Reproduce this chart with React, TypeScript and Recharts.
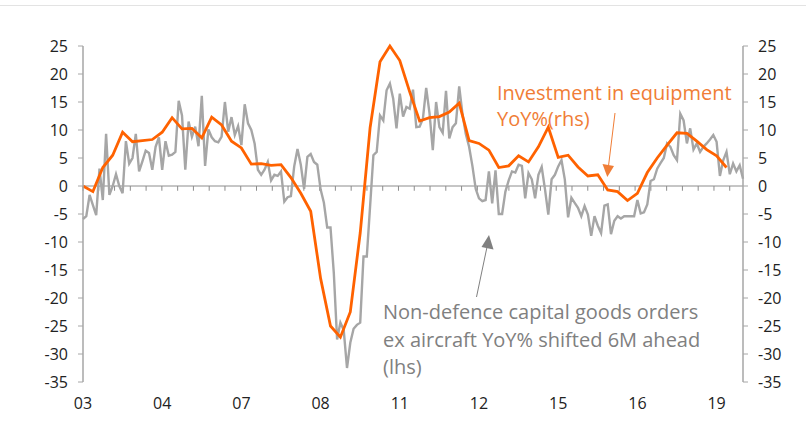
import React from "react";
import { LineChart, Line, XAxis, YAxis, ReferenceLine } from "recharts";

// monthly, Jan-03 .. (shifted 6M ahead)
const ordersYoY = [
  -5.9, -5.4, -1.6, -3.4, -5.2, 3.1, -2.5, 9.3, -1.6, 0, 2.1, 0, -1.3, 8, 4, 5, 9.3, 2.6, 4.4, 6.3,
  5.9, 2.9, 7, 8.7, 2.9, 8, 5.4, 5.6, 6.1, 15.2, 12.6, 2.9, 11.5, 8.8, 10.6, 7.1, 16.1, 3.6, 10.1, 8.7,
  8, 7.8, 8.8, 15, 9.7, 12.3, 9.1, 10.7, 7.3, 14.6, 11.2, 10, 7.6, 2.9, 2, 2.9, 4.3, 1, 2, 1.8,
  2.6, -2.8, -2, -1.8, 3.5, 6.6, 3.8, -0.5, 5.2, 5.7, 4.3, 3.8, -0.6, -3, -7.4, -7.4, -15.5, -27.4, -24.4, -25.7,
  -32.5, -28, -25.5, -24.8, -24.4, -12.6, -12.6, -3.6, 5.5, 6.1, 12.6, 11.7, 17.1, 18.3, 15.6, 10.3, 16.5, 12.4, 14.1, 13.8,
  17.2, 10.5, 10.6, 12, 17.5, 13, 6.4, 15, 10.5, 9.5, 17, 8.5, 10.5, 11.2, 17.8, 12.8, 9.3, 7, 3.6, -0.5,
  -2.2, -2.7, -2.5, 2.6, -3.1, 2.8, -5, -5, -1, 1, 2.6, 2.4, 3.8, 3.6, -2.2, 2.3, 1.2, -2.2, 2, 3.4,
  -0.6, -5.1, 1.2, 2, 3.5, 4.6, 1.2, -5.6, -2.1, -3, -3.9, -5.4, -3.6, -5.1, -8.9, -5.4, -7.1, -8.4, -3.5, -3.3,
  -8.6, -6.2, -5.4, -5.8, -5.4, -5.4, -5.4, -5.4, -2.5, -4.9, -4.7, -3.3, 0.9, 1.2, 3.1, 4.1, 5, 7.6, 7, 5.5,
  4.6, 12.9, 11.7, 7.6, 10.3, 6.5, 7.6, 6.1, 7, 7.6, 8.3, 9.1, 7.9, 1.8, 4.6, 6.1, 2.1, 4, 2.6, 3.7,
  1.3,
];

// quarterly, Q1-03 ..
const equipmentYoY = [
  0, -1, 3.3, 5.5, 9.6, 7.9, 8.1, 8.3, 9.6, 12.2, 10.2, 10.3, 8.6, 12.3, 10.9, 8, 6.8, 3.9, 4, 3.7,
  3.8, 1.5, -1.3, -4.5, -16.5, -25, -27, -22.5, -8.4, 10.4, 22.2, 25, 22.4, 16.8, 11.6, 12.2, 12.4, 13.2, 14.8, 8.1,
  7.6, 6.4, 3.3, 3.6, 5.4, 4.3, 7, 10.5, 5.1, 5.5, 3.4, 1.8, 2, -0.7, -1, -2.6, -1.3, 2.4, 5, 7.3,
  9.5, 9.4, 8, 6.5, 5.4, 3.3,
];

const xTicks = [0, 24, 48, 72, 96, 120, 144, 168, 192];
const xLabels = ["03", "04", "07", "08", "11", "12", "15", "16", "19"];
const yTicks = [-35, -30, -25, -20, -15, -10, -5, 0, 5, 10, 15, 20, 25];

const FONT = "'Open Sans', sans-serif";
const AXIS = "#a6a6a6";
const ORANGE = "#ff6200";

const rows = ordersYoY.map((v, i) => ({
  m: i,
  orders: v,
  equip: i % 3 === 0 && i / 3 < equipmentYoY.length ? equipmentYoY[i / 3] : null,
}));

// small marks on the zero line
const zeroTicks = Array.from({ length: 42 }, (_, k) => k * 4.78);

export default function App() {
  const tickStyle = { fill: "#222", fontSize: 16, fontFamily: FONT };
  return (
    <div style={{ position: "absolute", left: 0, top: 0, width: 806, height: 424, background: "#fff" }}>
      <div style={{ position: "absolute", left: 0, top: 5, width: 806, height: 1, background: "#e3e3e3" }} />
      <LineChart width={806} height={424} data={rows} margin={{ top: 46, right: 0, bottom: 0, left: 0 }}>
        <XAxis
          dataKey="m"
          type="number"
          domain={[0, 200]}
          ticks={xTicks}
          interval={0}
          tickFormatter={(v) => xLabels[xTicks.indexOf(v)]}
          axisLine={false}
          tickLine={false}
          tickMargin={10}
          height={42}
          tick={tickStyle}
        />
        <YAxis
          yAxisId="left"
          orientation="left"
          width={83}
          domain={[-35, 25]}
          ticks={yTicks}
          interval={0}
          axisLine={{ stroke: AXIS, strokeWidth: 1.5 }}
          tickLine={{ stroke: AXIS }}
          tickSize={5}
          tickMargin={10}
          tick={tickStyle}
        />
        <YAxis
          yAxisId="right"
          orientation="right"
          width={63}
          domain={[-35, 25]}
          ticks={yTicks}
          interval={0}
          axisLine={{ stroke: AXIS, strokeWidth: 1.5 }}
          tickLine={{ stroke: AXIS }}
          tickSize={5}
          tickMargin={10}
          tick={{ ...tickStyle, textAnchor: "start" }}
        />
        <ReferenceLine yAxisId="left" y={0} stroke="#8c8c8c" strokeWidth={1} />
        {zeroTicks.map((t) => (
          <ReferenceLine
            key={t}
            yAxisId="left"
            segment={[{ x: t, y: 0 }, { x: t, y: -0.85 }]}
            stroke="#8c8c8c"
            strokeWidth={1}
          />
        ))}
        <Line
          yAxisId="left"
          type="linear"
          dataKey="orders"
          stroke="#a6a6a6"
          strokeWidth={2.4}
          dot={false}
          isAnimationActive={false}
        />
        <Line
          yAxisId="right"
          type="linear"
          dataKey="equip"
          stroke={ORANGE}
          strokeWidth={2.8}
          dot={false}
          connectNulls
          isAnimationActive={false}
        />
      </LineChart>
      <svg width={806} height={424} style={{ position: "absolute", left: 0, top: 0, pointerEvents: "none" }}>
        <g fontFamily={FONT} fontSize={20}>
          <text x={497} y={100} fill="#f07d36">Investment in equipment</text>
          <text x={497} y={126} fill="#f07d36">YoY%(rhs)</text>
          <text x={383} y={319} fill="#808080">Non-defence capital goods orders</text>
          <text x={383} y={347} fill="#808080">ex aircraft YoY% shifted 6M ahead</text>
          <text x={383} y={374} fill="#808080">(lhs)</text>
        </g>
        <line x1={615} y1={113} x2={608.5} y2={166} stroke="#f07d36" strokeWidth={1} />
        <polygon points="602.5,164 614,166 607.3,177" fill="#f07d36" />
        <line x1={476.5} y1={297} x2={487} y2={247} stroke="#808080" strokeWidth={1} />
        <polygon points="481.5,247 493.5,249.5 489,235" fill="#808080" />
      </svg>
    </div>
  );
}
